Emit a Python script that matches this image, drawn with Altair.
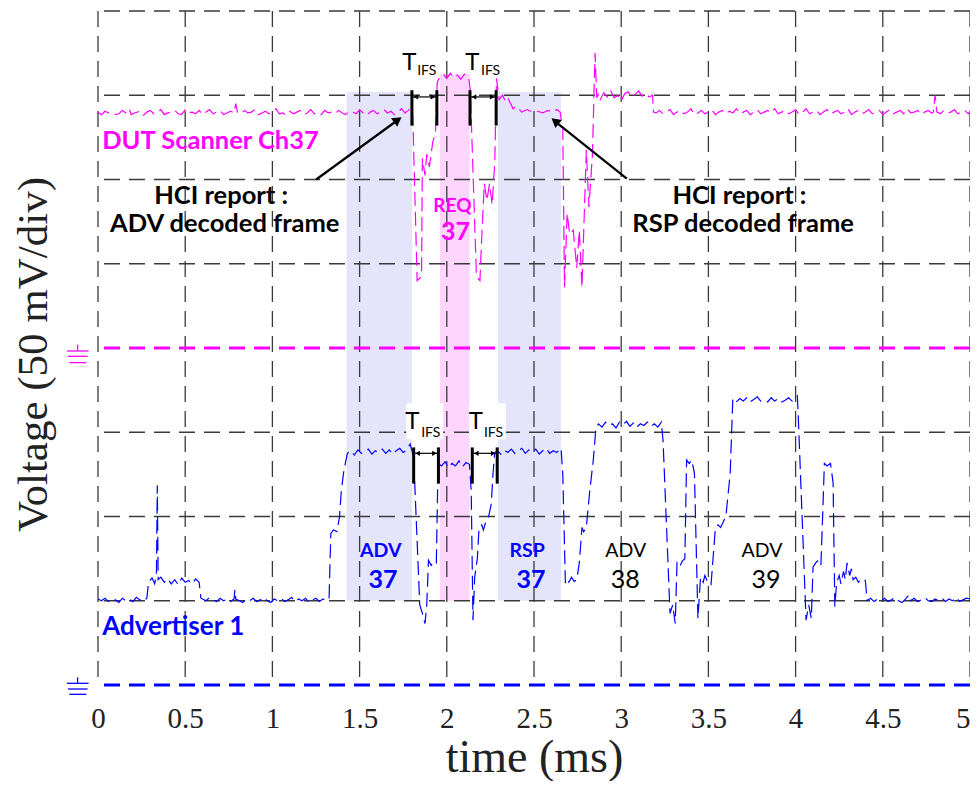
import altair as alt
import pandas as pd

# ---------------- data (time in ms, voltage in divisions of 50 mV) ----------------
X_TICKS = [0, 0.5, 1, 1.5, 2, 2.5, 3, 3.5, 4, 4.5, 5]
Y_DIVS = [0, 1, 2, 3, 4, 5, 6, 7, 8]

scanner_ch37 = [
    (0.00, 6.80), (0.02, 6.77), (0.04, 6.81), (0.06, 6.79), (0.08, 6.80), (0.10, 6.77),
    (0.12, 6.78), (0.14, 6.82), (0.16, 6.79), (0.18, 6.84), (0.19, 6.77), (0.21, 6.79),
    (0.24, 6.81), (0.26, 6.76), (0.28, 6.80), (0.30, 6.82), (0.32, 6.78), (0.34, 6.80),
    (0.36, 6.83), (0.38, 6.77), (0.40, 6.79), (0.42, 6.80), (0.44, 6.82), (0.46, 6.78),
    (0.48, 6.77), (0.50, 6.83), (0.52, 6.79), (0.54, 6.80), (0.56, 6.78), (0.58, 6.82),
    (0.60, 6.77), (0.62, 6.80), (0.64, 6.83), (0.66, 6.78), (0.68, 6.80), (0.70, 6.82),
    (0.72, 6.77), (0.74, 6.79), (0.76, 6.81), (0.78, 6.79), (0.79, 6.90), (0.80, 6.80),
    (0.82, 6.78), (0.84, 6.82), (0.86, 6.79), (0.88, 6.80), (0.90, 6.83), (0.92, 6.77),
    (0.94, 6.79), (0.96, 6.81), (0.98, 6.78), (1.00, 6.80), (1.02, 6.84), (1.04, 6.78),
    (1.06, 6.79), (1.08, 6.76), (1.10, 6.81), (1.12, 6.78), (1.14, 6.80), (1.16, 6.82),
    (1.18, 6.77), (1.20, 6.79), (1.22, 6.83), (1.24, 6.78), (1.26, 6.80), (1.28, 6.77),
    (1.30, 6.82), (1.32, 6.79), (1.34, 6.80), (1.36, 6.78), (1.38, 6.82), (1.40, 6.79),
    (1.42, 6.77), (1.44, 6.81), (1.46, 6.80), (1.48, 6.78), (1.50, 6.83), (1.52, 6.79),
    (1.54, 6.76), (1.56, 6.80), (1.58, 6.82), (1.60, 6.78), (1.62, 6.80), (1.64, 6.83),
    (1.66, 6.79), (1.68, 6.81), (1.70, 6.77), (1.72, 6.80), (1.74, 6.84), (1.76, 6.79),
    (1.78, 6.82), (1.79, 6.85), (1.80, 6.83), (1.805, 6.75), (1.83, 4.80), (1.855, 4.85),
    (1.86, 6.25), (1.875, 6.05), (1.885, 6.30), (1.90, 6.15), (1.92, 6.45), (1.935, 6.55),
    (1.945, 7.15), (1.96, 7.22), (1.98, 7.25), (2.00, 7.20), (2.02, 7.26), (2.04, 7.21),
    (2.06, 7.24), (2.08, 7.19), (2.10, 7.25), (2.125, 7.22), (2.135, 7.05), (2.17, 4.85),
    (2.19, 4.80), (2.20, 5.30), (2.215, 5.95), (2.23, 5.75), (2.245, 5.95), (2.26, 5.70),
    (2.275, 6.20), (2.285, 7.20), (2.30, 6.95), (2.32, 7.00), (2.335, 6.93), (2.35, 6.97),
    (2.38, 6.84), (2.40, 6.87), (2.43, 6.80), (2.46, 6.83), (2.49, 6.80), (2.52, 6.81),
    (2.55, 6.79), (2.58, 6.82), (2.61, 6.80), (2.63, 6.83), (2.65, 6.80), (2.665, 6.60),
    (2.675, 4.72), (2.69, 5.60), (2.705, 5.35), (2.725, 5.40), (2.745, 4.95),
    (2.76, 5.40), (2.775, 4.72), (2.79, 5.70), (2.80, 6.35),
    (2.815, 5.67), (2.835, 6.30), (2.85, 7.50), (2.86, 6.97), (2.87, 7.02),
    (2.88, 6.95), (2.90, 7.03), (2.92, 6.98), (2.94, 7.05), (2.96, 6.97), (2.98, 7.00),
    (3.00, 6.93), (3.02, 7.02), (3.04, 7.04), (3.06, 6.98), (3.08, 7.01), (3.10, 7.05),
    (3.12, 6.99), (3.14, 7.02), (3.16, 6.98), (3.18, 7.00), (3.185, 6.80), (3.20, 6.79),
    (3.22, 6.82), (3.24, 6.78), (3.26, 6.80), (3.28, 6.83), (3.30, 6.77), (3.32, 6.80),
    (3.34, 6.82), (3.36, 6.78), (3.38, 6.80), (3.40, 6.84), (3.42, 6.77), (3.44, 6.79),
    (3.46, 6.82), (3.48, 6.78), (3.50, 6.80), (3.52, 6.83), (3.54, 6.77), (3.56, 6.80),
    (3.58, 6.82), (3.60, 6.78), (3.62, 6.81), (3.64, 6.79), (3.66, 6.84), (3.68, 6.78),
    (3.70, 6.80), (3.72, 6.82), (3.74, 6.77), (3.76, 6.80), (3.78, 6.83), (3.80, 6.78),
    (3.82, 6.80), (3.84, 6.82), (3.86, 6.79), (3.88, 6.84), (3.90, 6.78), (3.92, 6.80),
    (3.94, 6.82), (3.96, 6.78), (3.98, 6.80), (4.00, 6.83), (4.02, 6.77), (4.04, 6.80),
    (4.06, 6.84), (4.08, 6.78), (4.10, 6.80), (4.12, 6.82), (4.14, 6.77), (4.16, 6.80),
    (4.18, 6.83), (4.20, 6.78), (4.22, 6.80), (4.24, 6.82), (4.26, 6.78), (4.28, 6.80),
    (4.30, 6.84), (4.32, 6.77), (4.34, 6.80), (4.36, 6.82), (4.38, 6.78), (4.40, 6.80),
    (4.42, 6.83), (4.44, 6.78), (4.46, 6.80), (4.48, 6.82), (4.50, 6.77), (4.52, 6.80),
    (4.54, 6.83), (4.56, 6.78), (4.58, 6.80), (4.60, 6.82), (4.62, 6.78), (4.64, 6.84),
    (4.66, 6.79), (4.68, 6.80), (4.70, 6.82), (4.72, 6.77), (4.74, 6.80), (4.76, 6.82),
    (4.78, 6.79), (4.79, 6.80), (4.80, 7.00), (4.81, 6.80), (4.83, 6.78), (4.85, 6.82),
    (4.87, 6.79), (4.89, 6.80), (4.91, 6.83), (4.93, 6.78), (4.95, 6.80), (4.97, 6.82),
    (4.99, 6.78), (5.00, 6.80),
]

advertiser_1 = [
    (0.00, 1.02), (0.02, 1.00), (0.04, 1.03), (0.06, 0.99), (0.08, 1.02), (0.10, 1.01),
    (0.12, 0.98), (0.14, 1.03), (0.16, 1.00), (0.18, 1.02), (0.20, 0.99), (0.22, 1.04),
    (0.24, 1.01), (0.26, 0.99), (0.28, 1.03), (0.29, 1.22), (0.31, 1.27), (0.325, 1.20),
    (0.335, 1.30), (0.34, 2.37), (0.345, 1.25), (0.36, 1.28), (0.38, 1.22), (0.40, 1.26),
    (0.42, 1.20), (0.44, 1.25), (0.46, 1.19), (0.48, 1.27), (0.50, 1.22), (0.52, 1.24),
    (0.54, 1.20), (0.56, 1.26), (0.58, 1.22), (0.59, 1.03), (0.62, 1.00), (0.64, 1.04),
    (0.66, 1.01), (0.68, 0.99), (0.70, 1.03), (0.72, 1.00), (0.74, 1.02), (0.76, 0.99),
    (0.78, 1.02), (0.785, 1.13), (0.79, 1.02), (0.81, 1.00), (0.83, 0.98), (0.85, 1.02),
    (0.87, 1.00), (0.89, 1.03), (0.91, 0.99), (0.93, 1.01), (0.95, 1.04), (0.97, 1.00),
    (0.99, 0.98), (1.01, 1.02), (1.03, 1.00), (1.05, 1.03), (1.07, 0.99), (1.09, 1.01),
    (1.11, 1.04), (1.13, 0.99), (1.15, 1.02), (1.17, 1.00), (1.19, 1.03), (1.21, 0.98),
    (1.23, 1.01), (1.25, 1.03), (1.27, 0.99), (1.29, 1.02), (1.31, 1.00), (1.325, 1.03),
    (1.335, 1.80), (1.35, 1.84), (1.37, 1.82), (1.385, 2.00), (1.395, 2.30), (1.41, 2.55),
    (1.43, 2.75), (1.45, 2.78), (1.47, 2.73), (1.49, 2.79), (1.51, 2.75), (1.53, 2.77),
    (1.55, 2.80), (1.57, 2.74), (1.59, 2.78), (1.61, 2.76), (1.63, 2.80), (1.65, 2.75),
    (1.67, 2.79), (1.69, 2.74), (1.71, 2.78), (1.73, 2.81), (1.75, 2.76), (1.77, 2.79),
    (1.79, 2.86), (1.80, 2.78), (1.81, 2.70), (1.845, 0.95), (1.86, 0.85), (1.875, 0.73),
    (1.885, 0.95), (1.895, 1.48), (1.91, 1.42), (1.925, 1.47), (1.94, 1.45), (1.95, 2.63),
    (1.97, 2.60), (1.99, 2.65), (2.01, 2.58), (2.03, 2.63), (2.05, 2.60), (2.07, 2.66),
    (2.09, 2.59), (2.11, 2.64), (2.13, 2.62), (2.14, 2.30), (2.15, 0.77), (2.16, 1.28),
    (2.175, 1.50), (2.185, 1.87), (2.20, 1.90), (2.21, 1.84), (2.225, 1.95), (2.24, 2.00),
    (2.255, 2.15), (2.265, 2.51), (2.275, 2.76), (2.29, 2.78), (2.31, 2.74), (2.33, 2.79),
    (2.35, 2.76), (2.37, 2.80), (2.39, 2.75), (2.41, 2.78), (2.43, 2.81), (2.45, 2.75),
    (2.47, 2.79), (2.49, 2.76), (2.51, 2.80), (2.53, 2.74), (2.55, 2.78), (2.57, 2.81),
    (2.59, 2.75), (2.61, 2.78), (2.63, 2.76), (2.655, 2.81), (2.665, 2.50), (2.68, 1.21),
    (2.69, 1.26), (2.70, 1.22), (2.715, 1.28), (2.73, 1.23), (2.745, 1.25), (2.76, 1.45),
    (2.775, 1.87), (2.785, 1.82), (2.80, 1.87), (2.82, 2.31), (2.84, 2.67), (2.855, 3.05),
    (2.87, 3.10), (2.89, 3.06), (2.91, 3.12), (2.93, 3.08), (2.95, 3.10), (2.97, 3.05),
    (2.99, 3.12), (3.01, 3.09), (3.03, 3.13), (3.05, 3.07), (3.07, 3.11), (3.09, 3.06),
    (3.11, 3.10), (3.13, 3.08), (3.15, 3.12), (3.17, 3.07), (3.19, 3.10), (3.21, 3.06),
    (3.23, 3.12), (3.24, 2.90), (3.28, 0.85), (3.295, 0.95), (3.31, 0.73), (3.32, 1.45),
    (3.335, 1.40), (3.35, 1.47), (3.365, 1.50), (3.375, 2.67), (3.39, 2.63), (3.405, 2.67),
    (3.42, 2.51), (3.44, 0.79), (3.455, 1.28), (3.47, 1.22), (3.48, 1.30), (3.50, 1.20),
    (3.515, 1.19), (3.54, 1.86), (3.555, 1.90), (3.57, 1.87), (3.60, 2.00), (3.625, 2.51),
    (3.64, 3.40), (3.66, 3.36), (3.68, 3.40), (3.70, 3.37), (3.72, 3.41), (3.74, 3.36),
    (3.76, 3.39), (3.78, 3.42), (3.80, 3.37), (3.82, 3.38), (3.84, 3.36), (3.86, 3.41),
    (3.88, 3.37), (3.90, 3.40), (3.92, 3.36), (3.94, 3.38), (3.96, 3.41), (3.98, 3.37),
    (4.00, 3.40), (4.01, 3.43), (4.015, 3.20), (4.06, 0.77), (4.075, 0.95), (4.09, 0.79),
    (4.10, 1.40), (4.115, 1.45), (4.13, 1.48), (4.145, 1.42), (4.155, 2.00), (4.165, 2.63),
    (4.18, 2.60), (4.20, 2.63), (4.215, 2.40), (4.225, 0.93), (4.235, 1.21), (4.25, 1.30),
    (4.26, 1.20), (4.275, 1.35), (4.285, 1.25), (4.295, 1.45), (4.31, 1.30), (4.32, 1.38),
    (4.33, 1.25), (4.345, 1.28), (4.36, 1.22), (4.38, 1.26), (4.40, 1.24), (4.41, 1.00),
    (4.43, 1.03), (4.45, 0.99), (4.47, 1.02), (4.49, 1.00), (4.51, 1.03), (4.53, 0.99),
    (4.55, 1.01), (4.57, 1.04), (4.59, 1.00), (4.61, 0.98), (4.63, 1.02), (4.65, 1.07),
    (4.66, 1.00), (4.68, 1.03), (4.70, 0.99), (4.72, 1.01), (4.74, 1.04), (4.76, 1.00),
    (4.78, 0.99), (4.80, 1.02), (4.82, 1.00), (4.84, 1.03), (4.86, 0.99), (4.88, 1.02),
    (4.90, 1.00), (4.92, 1.04), (4.94, 0.99), (4.96, 1.01), (4.98, 1.03), (5.00, 1.02),
]

# shaded packet windows
band_t0 = [1.426, 1.960, 2.293]
band_t1 = [1.800, 2.131, 2.655]
band_v0 = [1.0, 1.0, 1.0]
band_v1 = [7.04, 7.25, 7.04]

# ground levels of the two channels
scan_ground = 4
adv_ground = 0

# T_IFS markers
tifs_top_bars = [1.800, 1.943, 2.133, 2.283]
tifs_low_bars = [1.810, 1.952, 2.146, 2.289]

# ---------------- helpers ----------------
XS = alt.Scale(domain=[0, 5], nice=False, zero=False)
YS = alt.Scale(domain=[0, 8], nice=False, zero=False)
SANS = "Lato"
SERIF = "Liberation Serif"
MAG = "#ff00ff"
BLUE = "#0000ff"

AX_X = alt.Axis(values=X_TICKS, format="~g", title="time (ms)",
                grid=False, ticks=False, tickSize=0, domain=False,
                labelFont=SERIF, labelFontSize=29, labelColor="#222",
                labelPadding=42, labelBaseline="alphabetic", labelOverlap=False,
                labelAlign=alt.condition("datum.value == 5", alt.value("right"),
                                         alt.value("center")),
                titleFont=SERIF, titleFontSize=46, titleFontWeight="normal",
                titleColor="#222", titleY=86, titleBaseline="alphabetic")
AX_Y = alt.Axis(values=Y_DIVS, labels=False, grid=False, ticks=False,
                tickSize=0, domain=False, title="Voltage (50 mV/div)",
                titleFont=SERIF, titleFontSize=43, titleFontWeight="normal",
                titleColor="#222", titleX=-52, titleY=343, titleAngle=270,
                titleBaseline="alphabetic", titleAlign="center")


def X(f):
    return alt.X(f, type="quantitative", scale=XS, axis=AX_X)


def Y(f):
    return alt.Y(f, type="quantitative", scale=YS, axis=AX_Y)


scan_df = pd.DataFrame(scanner_ch37, columns=["t", "v"])
adv_df = pd.DataFrame(advertiser_1, columns=["t", "v"])


def band(i, color):
    d = pd.DataFrame({"t0": [band_t0[i]], "t1": [band_t1[i]],
                      "v0": [band_v0[i]], "v1": [band_v1[i]]})
    return alt.Chart(d).mark_rect(color=color).encode(
        x=X("t0"), x2="t1", y=Y("v0"), y2="v1")


bands = [band(0, "#e4e4fb"), band(1, "#fdd5fd"), band(2, "#e4e4fb")]

# grid (drawn over the shaded windows)
vgrid = alt.Chart(pd.DataFrame({"t": X_TICKS})).mark_rule(
    color="#3a3a3a", strokeWidth=1.3, strokeDash=[16, 9]).encode(x=X("t"))
hgrid = alt.Chart(pd.DataFrame({"v": Y_DIVS})).mark_rule(
    color="#3a3a3a", strokeWidth=1.3, strokeDash=[16, 9]).encode(y=Y("v"))

# white boxes behind the lower T_IFS labels
wbox_df = pd.DataFrame({"t0": [1.767, 2.127], "t1": [1.979, 2.339],
                        "v0": [2.918, 2.918], "v1": [3.345, 3.345]})
wbox = alt.Chart(wbox_df).mark_rect(color="white").encode(
    x=X("t0"), x2="t1", y=Y("v0"), y2="v1")

# ground reference lines
gnd_scan = alt.Chart(pd.DataFrame({"v": [scan_ground]})).mark_rule(
    color=MAG, strokeWidth=3, strokeDash=[16, 9]).encode(y=Y("v"))
gnd_adv = alt.Chart(pd.DataFrame({"v": [adv_ground]})).mark_rule(
    color=BLUE, strokeWidth=3, strokeDash=[16, 9]).encode(y=Y("v"))


def ground_symbol(level, color, tick, lines):
    d = pd.DataFrame({"v": [level]})
    out = [alt.Chart(d).mark_rule(color=color, strokeWidth=1.3,
                                  yOffset=tick[0], y2Offset=tick[1]).encode(
        x=alt.value(-20.4), y=Y("v"), y2="v")]
    for dy, x1, x2 in lines:
        out.append(alt.Chart(d).mark_rule(color=color, strokeWidth=1.3, yOffset=dy).encode(
            x=alt.value(x1), x2=alt.value(x2), y=Y("v")))
    return out


gsym = ground_symbol(scan_ground, MAG, (-3.4, 2.3),
                     [(3.0, -31, -9.4), (8.3, -30, -10.4), (14.6, -28.7, -11.7)])
gsym += ground_symbol(adv_ground, BLUE, (-7.7, -2.3),
                      [(-1.7, -31, -9.4), (4.0, -30, -10.4), (9.3, -28.7, -11.7)])

# traces
scan_line = alt.Chart(scan_df).mark_line(color=MAG, strokeWidth=1.2,
                                         strokeDash=[14, 6]).encode(x=X("t"), y=Y("v"))
adv_line = alt.Chart(adv_df).mark_line(color=BLUE, strokeWidth=1.2,
                                       strokeDash=[14, 6]).encode(x=X("t"), y=Y("v"))


# T_IFS bars and double arrows
def tifs(bars, vlo, vhi, varrow):
    bd = pd.DataFrame({"t": bars, "v0": [vlo] * 4, "v1": [vhi] * 4})
    b = alt.Chart(bd).mark_rule(color="black", strokeWidth=3).encode(
        x=X("t"), y=Y("v0"), y2="v1")
    ad = pd.DataFrame({"t0": [bars[0], bars[2]], "t1": [bars[1], bars[3]],
                       "v": [varrow, varrow]})
    a = alt.Chart(ad).mark_rule(color="black", strokeWidth=1.2).encode(
        x=X("t0"), x2="t1", y=Y("v"))
    hl = alt.Chart(ad).mark_point(shape="triangle-left", filled=True, color="black",
                                  size=28, opacity=1, xOffset=4).encode(x=X("t0"), y=Y("v"))
    hr = alt.Chart(ad).mark_point(shape="triangle-right", filled=True, color="black",
                                  size=28, opacity=1, xOffset=-4).encode(x=X("t1"), y=Y("v"))
    return [b, a, hl, hr]


tifs_layers = tifs(tifs_top_bars, 6.64, 7.06, 6.98) + tifs(tifs_low_bars, 2.39, 2.82, 2.75)

# big annotation arrows
arr_df = pd.DataFrame({"t0": [1.251, 3.032], "v0": [6.00, 6.01],
                       "t1": [1.725, 2.615], "v1": [6.715, 6.70]})
arrows = alt.Chart(arr_df).mark_rule(color="black", strokeWidth=2.2).encode(
    x=X("t0"), x2="t1", y=Y("v0"), y2="v1")
head_df = pd.DataFrame({"t": [1.719, 2.621], "v": [6.707, 6.693], "ang": [54, 309]})
heads = alt.Chart(head_df).mark_point(shape="triangle-up", filled=True, color="black",
                                      size=110, opacity=1).encode(
    x=X("t"), y=Y("v"), angle=alt.Angle("ang:Q", scale=None))


def text_layer(texts, ts, vs, size, color, weight="bold", align="center", font=SANS):
    d = pd.DataFrame({"t": ts, "v": vs, "s": texts})
    return alt.Chart(d).mark_text(font=font, fontSize=size, fontWeight=weight,
                                  color=color, align=align, baseline="alphabetic").encode(
        x=X("t"), y=Y("v"), text="s:N")


texts = [
    text_layer(["DUT Scanner Ch37"], [0.024], [6.36], 25.5, MAG, align="left"),
    text_layer(["Advertiser 1"], [0.024], [0.593], 26, BLUE, align="left"),
    text_layer(["HCI report :", "ADV decoded frame", "HCI report :", "RSP decoded frame"],
               [0.706, 0.727, 3.678, 3.699], [5.706, 5.377, 5.706, 5.377], 25.5, "black"),
    text_layer(["REQ"], [2.032], [5.615], 19, MAG),
    text_layer(["37"], [2.050], [5.28], 25, MAG),
    text_layer(["ADV", "RSP"], [1.621, 2.461], [1.522, 1.522], 19.5, BLUE),
    text_layer(["37", "37"], [1.634, 2.483], [1.147, 1.147], 25, BLUE),
    text_layer(["ADV", "ADV"], [3.026, 3.807], [1.522, 1.522], 19.5, "black", weight="normal"),
    text_layer(["38", "39"], [3.023, 3.830], [1.147, 1.147], 25, "black", weight="normal"),
    text_layer(["T", "T", "T", "T"], [1.785, 2.147, 1.802, 2.167],
               [7.30, 7.30, 3.037, 3.037], 24, "black", weight="normal"),
    text_layer(["IFS", "IFS", "IFS", "IFS"], [1.830, 2.196, 1.853, 2.213],
               [7.236, 7.236, 2.942, 2.942], 14, "black", weight="normal", align="left"),
]

chart = alt.layer(
    *bands, vgrid, hgrid, wbox, gnd_scan, gnd_adv, *gsym, scan_line, adv_line,
    *tifs_layers, arrows, heads, *texts
).properties(
    width=872, height=674,
    padding={"left": 90, "top": 3, "right": 0, "bottom": 96},
    autosize=alt.AutoSizeParams(type="none"),
    background="white",
).configure_view(stroke=None)

chart.save("out.html", embed_options={"renderer": "svg", "actions": False})
